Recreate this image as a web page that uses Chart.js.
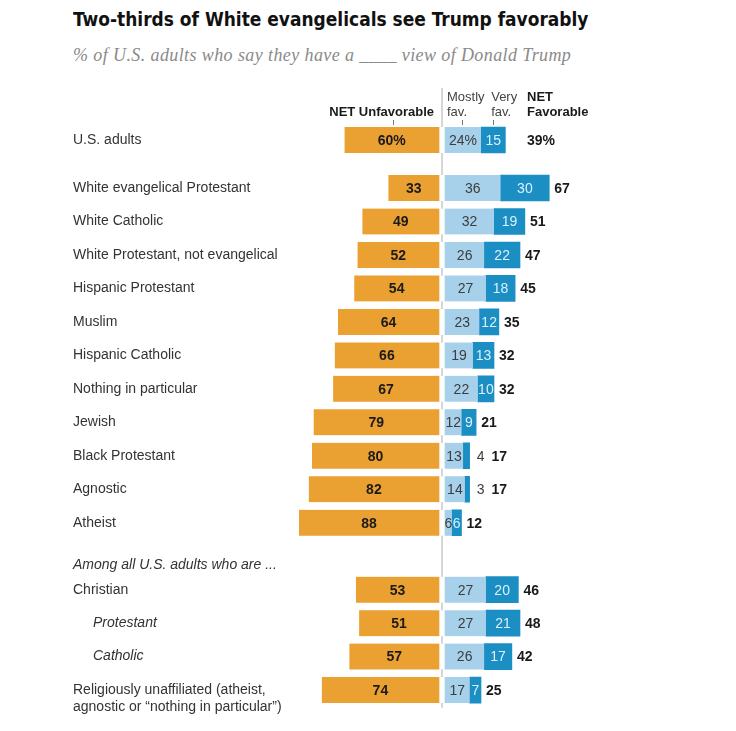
<!DOCTYPE html>
<html>
<head>
<meta charset="utf-8">
<script src="https://cdn.jsdelivr.net/npm/chart.js@4.4.1/dist/chart.umd.min.js"></script>
<style>
  html, body { margin: 0; padding: 0; background: #fff; }
  #page { position: relative; width: 736px; height: 731px; overflow: hidden; }
  #title { position: absolute; left: 73px; top: 7px; font: bold 20px "DejaVu Sans Condensed", "Liberation Sans Narrow", Arial, sans-serif; color: #111; white-space: nowrap; transform: scaleX(0.947); transform-origin: left top; }
  #subtitle { position: absolute; left: 73px; top: 45px; font: italic 18px "Liberation Serif", "DejaVu Serif", serif; letter-spacing: 0.4px; color: #8a8a8a; white-space: nowrap; }
  #topBox { position: absolute; left: 0; top: 80px; width: 736px; height: 80px; }
  #mainBox { position: absolute; left: 0; top: 160px; width: 736px; height: 560px; }
</style>
</head>
<body>
<div id="page">
  <div id="title">Two-thirds of White evangelicals see Trump favorably</div>
  <div id="subtitle">% of U.S. adults who say they have a ____ view of Donald Trump</div>
  <div id="topBox"><canvas id="topChart"></canvas></div>
  <div id="mainBox"><canvas id="mainChart"></canvas></div>
</div>
<script>
// --- data ---
const topCategories = ['U.S. adults'];
const topUnfavorable = [60];
const topMostlyFav = [24];
const topVeryFav = [15];
const topNetFavorable = [39];

const categories = [
  'White evangelical Protestant',
  'White Catholic',
  'White Protestant, not evangelical',
  'Hispanic Protestant',
  'Muslim',
  'Hispanic Catholic',
  'Nothing in particular',
  'Jewish',
  'Black Protestant',
  'Agnostic',
  'Atheist',
  'Among all U.S. adults who are ...',
  'Christian',
  'Protestant',
  'Catholic',
  ['Religiously unaffiliated (atheist,', 'agnostic or “nothing in particular”)']
];
const unfavorable = [33, 49, 52, 54, 64, 66, 67, 79, 80, 82, 88, null, 53, 51, 57, 74];
const mostlyFav   = [36, 32, 26, 27, 23, 19, 22, 12, 13, 14, 6, null, 27, 27, 26, 17];
const veryFav     = [30, 19, 22, 18, 12, 13, 10, 9, 4, 3, 6, null, 20, 21, 17, 7];
const netFavorable = [67, 51, 47, 45, 35, 32, 32, 21, 17, 17, 12, null, 46, 48, 42, 25];

// --- styling ---
const SANS = '"Liberation Sans", Arial, sans-serif';
const ORANGE = '#eba032';
const LIGHT_BLUE = '#a7d0ea';
const DARK_BLUE = '#1b8ec3';
const indentedRows = ['Protestant', 'Catholic'];

const labelPlugin = {
  id: 'rowLabels',
  beforeDatasetsDraw(chart, args, o) {
    const ctx = chart.ctx;
    const zero = chart.scales.x.getPixelForValue(0);
    ctx.save();
    ctx.strokeStyle = '#d6d6d6';
    ctx.lineWidth = 2;
    ctx.beginPath();
    ctx.moveTo(zero, o.lineTop);
    ctx.lineTo(zero, o.lineBottom != null ? o.lineBottom : chart.chartArea.bottom + 1);
    ctx.stroke();
    ctx.restore();
  },
  afterDatasetsDraw(chart, args, o) {
    const ctx = chart.ctx;
    const yScale = chart.scales.y;
    const labels = chart.data.labels;
    const unf = chart.getDatasetMeta(0).data;
    const mos = chart.getDatasetMeta(1).data;
    const ver = chart.getDatasetMeta(2).data;
    const dsU = chart.data.datasets[0].data;
    const dsM = chart.data.datasets[1].data;
    const dsV = chart.data.datasets[2].data;
    const pct = o.pct ? '%' : '';
    ctx.save();
    ctx.textBaseline = 'middle';
    labels.forEach((lab, i) => {
      const y = yScale.getPixelForValue(i);
      ctx.fillStyle = '#333';
      ctx.textAlign = 'left';
      if (dsU[i] == null) {
        ctx.font = 'italic 14px ' + SANS;
        ctx.fillText(lab, 73, y + 9);
        return;
      }
      if (indentedRows.includes(lab)) {
        ctx.font = 'italic 14px ' + SANS;
        ctx.fillText(lab, 93, y);
      } else {
        ctx.font = '14px ' + SANS;
        [].concat(lab).forEach((line, k) => ctx.fillText(line, 73, y + k * 17));
      }

      // orange value
      const u = unf[i];
      ctx.textAlign = 'center';
      ctx.fillStyle = '#1a1a1a';
      ctx.font = 'bold 14px ' + SANS;
      ctx.fillText(-dsU[i] + pct, (u.x + u.base) / 2 - 1.5, y + 1);

      // mostly favorable
      const m = mos[i];
      ctx.font = '14px ' + SANS;
      ctx.fillStyle = '#3d3d3d';
      ctx.fillText(dsM[i] + pct, (m.x + m.base) / 2 + 1.5, y + 1);

      // very favorable
      const v = ver[i];
      let end = v.x;
      if (dsV[i] >= 5) {
        ctx.fillStyle = '#dcf0fb';
        ctx.fillText(dsV[i], (v.x + v.base) / 2, y + 1);
      } else {
        ctx.fillStyle = '#3d3d3d';
        ctx.textAlign = 'left';
        ctx.fillText(dsV[i], v.x + 7, y + 1);
        end = v.x + 7 + ctx.measureText(String(dsV[i])).width;
      }

      // net favorable
      ctx.textAlign = 'left';
      ctx.fillStyle = '#1a1a1a';
      ctx.font = 'bold 14px ' + SANS;
      const netX = o.netX != null ? o.netX : end + (dsV[i] >= 5 ? 5 : 7);
      ctx.fillText(o.net[i] + pct, netX, y + 1);

      if (o.header) {
        const top = u.y - u.height / 2;
        const ticks = [(u.x + u.base) / 2, (m.x + m.base) / 2, (v.x + v.base) / 2];
        ctx.strokeStyle = '#777';
        ctx.lineWidth = 1;
        ticks.forEach(t => {
          ctx.beginPath();
          ctx.moveTo(Math.round(t) + 0.5, top - 7);
          ctx.lineTo(Math.round(t) + 0.5, top - 2);
          ctx.stroke();
        });
        ctx.textBaseline = 'alphabetic';
        ctx.fillStyle = '#1a1a1a';
        ctx.font = 'bold 13px ' + SANS;
        ctx.textAlign = 'right';
        ctx.fillText('NET Unfavorable', u.base - 8, top - 11);
        ctx.textAlign = 'left';
        ctx.fillText('NET', netX, top - 26);
        ctx.fillText('Favorable', netX, top - 11);
        ctx.font = '13px ' + SANS;
        ctx.fillStyle = '#444';
        ctx.fillText('Mostly', m.base + 5, top - 26);
        ctx.fillText('fav.', m.base + 5, top - 11);
        ctx.fillText('Very', ticks[2] - 2, top - 26);
        ctx.fillText('fav.', ticks[2] - 2, top - 11);
      }
    });
    ctx.restore();
  }
};

function makeChart(id, labels, unf, mostly, very, net, opts) {
  return new Chart(document.getElementById(id), {
    type: 'bar',
    data: {
      labels: labels,
      datasets: [
        {
          label: 'NET Unfavorable',
          data: unf.map(v => v == null ? null : -v),
          backgroundColor: ORANGE,
          borderColor: '#fff',
          borderWidth: { right: 3 },
          borderSkipped: false
        },
        {
          label: 'Mostly fav.',
          data: mostly,
          backgroundColor: LIGHT_BLUE,
          borderColor: '#fff',
          borderWidth: { left: 3 },
          borderSkipped: false
        },
        {
          label: 'Very fav.',
          data: very,
          backgroundColor: DARK_BLUE,
          borderWidth: 0
        }
      ]
    },
    options: {
      indexAxis: 'y',
      responsive: true,
      maintainAspectRatio: false,
      animation: false,
      layout: { padding: { left: 279.5, right: 131.5, top: opts.padTop, bottom: opts.padBottom } },
      datasets: { bar: { barThickness: 26 } },
      scales: {
        x: { stacked: true, min: -100, max: 100, display: false },
        y: { stacked: true, display: false }
      },
      plugins: {
        legend: { display: false },
        tooltip: { enabled: false },
        rowLabels: Object.assign({ net: net }, opts.labels)
      }
    },
    plugins: [labelPlugin]
  });
}

makeChart('topChart', topCategories, topUnfavorable, topMostlyFav, topVeryFav, topNetFavorable, {
  padTop: 43, padBottom: 3,
  labels: { pct: true, header: true, lineTop: 8, lineBottom: 80, netX: 527 }
});

makeChart('mainChart', categories, unfavorable, mostlyFav, veryFav, netFavorable, {
  padTop: 11.3, padBottom: 13.2,
  labels: { pct: false, header: false, lineTop: 0 }
});
</script>
</body>
</html>
